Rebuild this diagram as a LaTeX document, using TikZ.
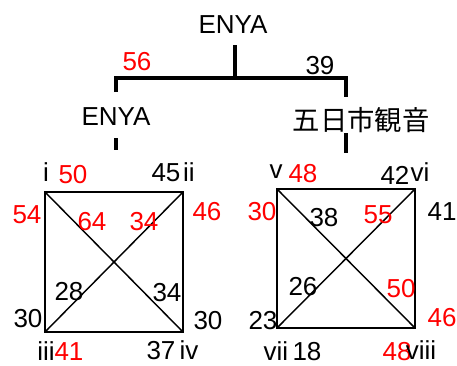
\documentclass[tikz,border=0pt]{standalone}
\usepackage{fontspec}
\setmainfont{Liberation Sans}
\newfontfamily\jpfont{Noto Sans CJK JP}

\begin{document}
\begin{tikzpicture}[x=0.75pt,y=-0.75pt,
  lbl/.style={font=\fontsize{19.5}{21}\selectfont, inner sep=0pt},
  hot/.style={lbl, text=red},
  tree/.style={line width=2.6pt},
  box/.style={line width=1.5pt},
  diag/.style={line width=1.1pt}]
\useasboundingbox (0,0) rectangle (457,365);

% Tree
\node[lbl] (root) at (233,25) {ENYA};
\coordinate (stemtop) at (235,45);
\coordinate (stembot) at (235,78);
\coordinate (barL) at (116,78);
\coordinate (barR) at (346,78);
\coordinate (dropL) at (116,92);
\coordinate (dropR) at (346,97);
\draw[tree] (stemtop) -- (stembot);
\draw[tree] (dropL) -- (barL) -- (barR) -- (dropR);
\node[hot] (scoreL) at (137,62) {56};
\node[lbl] (scoreR) at (320,66) {39};

% Children
\node[lbl] (enya) at (116,117) {ENYA};
\node[lbl, font=\jpfont\fontsize{20.5}{22}\selectfont] (kannon) at (361,120) {五日市観音};
\coordinate (stubLa) at (116,138);
\coordinate (stubLb) at (116,150);
\coordinate (stubRa) at (346,133);
\coordinate (stubRb) at (346,153);
\draw[tree] (stubLa) -- (stubLb);
\draw[tree] (stubRa) -- (stubRb);

% Left square
\coordinate (c1) at (45,192);
\coordinate (c2) at (183,192);
\coordinate (c3) at (45,332);
\coordinate (c4) at (183,332);
\draw[box] (c1) -- (c2) -- (c4) -- (c3) -- cycle;
\draw[diag] (c1) -- (c4);
\draw[diag] (c2) -- (c3);

\node[lbl] (li) at (46,172) {i};
\node[hot] (l50) at (73,175) {50};
\node[lbl] (l45) at (166,173) {45};
\node[lbl] (lii) at (189,172) {ii};
\node[hot] (l54) at (27,215) {54};
\node[hot] (l46) at (207,212) {46};
\node[hot] (l64) at (92,222) {64};
\node[hot] (l34a) at (144,222) {34};
\node[lbl] (l28) at (69,292) {28};
\node[lbl] (l34b) at (167,293) {34};
\node[lbl] (l30a) at (28,319) {30};
\node[lbl] (l30b) at (208,321) {30};
\node[lbl] (liii) at (46,351) {iii};
\node[hot] (l41) at (69,352) {41};
\node[lbl] (l37) at (161,351) {37};
\node[lbl] (liv) at (189,350) {iv};

% Right square
\coordinate (c5) at (277,189);
\coordinate (c6) at (415,189);
\coordinate (c7) at (277,328);
\coordinate (c8) at (415,328);
\draw[box] (c5) -- (c6) -- (c8) -- (c7) -- cycle;
\draw[diag] (c5) -- (c8);
\draw[diag] (c6) -- (c7);

\node[lbl] (rv) at (276,172) {v};
\node[hot] (r48a) at (303,174) {48};
\node[lbl] (r42) at (395,175) {42};
\node[lbl] (rvi) at (420,172) {vi};
\node[hot] (r30) at (262,212) {30};
\node[lbl] (r41) at (442,212) {41};
\node[lbl] (r38) at (324,218) {38};
\node[hot] (r55) at (378,215) {55};
\node[lbl] (r26) at (303,287) {26};
\node[hot] (r50) at (401,289) {50};
\node[lbl] (r23) at (263,321) {23};
\node[hot] (r46) at (442,318) {46};
\node[lbl] (rvii) at (276,351) {vii};
\node[lbl] (r18) at (307,352) {18};
\node[hot] (r48b) at (397,352) {48};
\node[lbl] (rviii) at (421,350) {viii};

\end{tikzpicture}
\end{document}
